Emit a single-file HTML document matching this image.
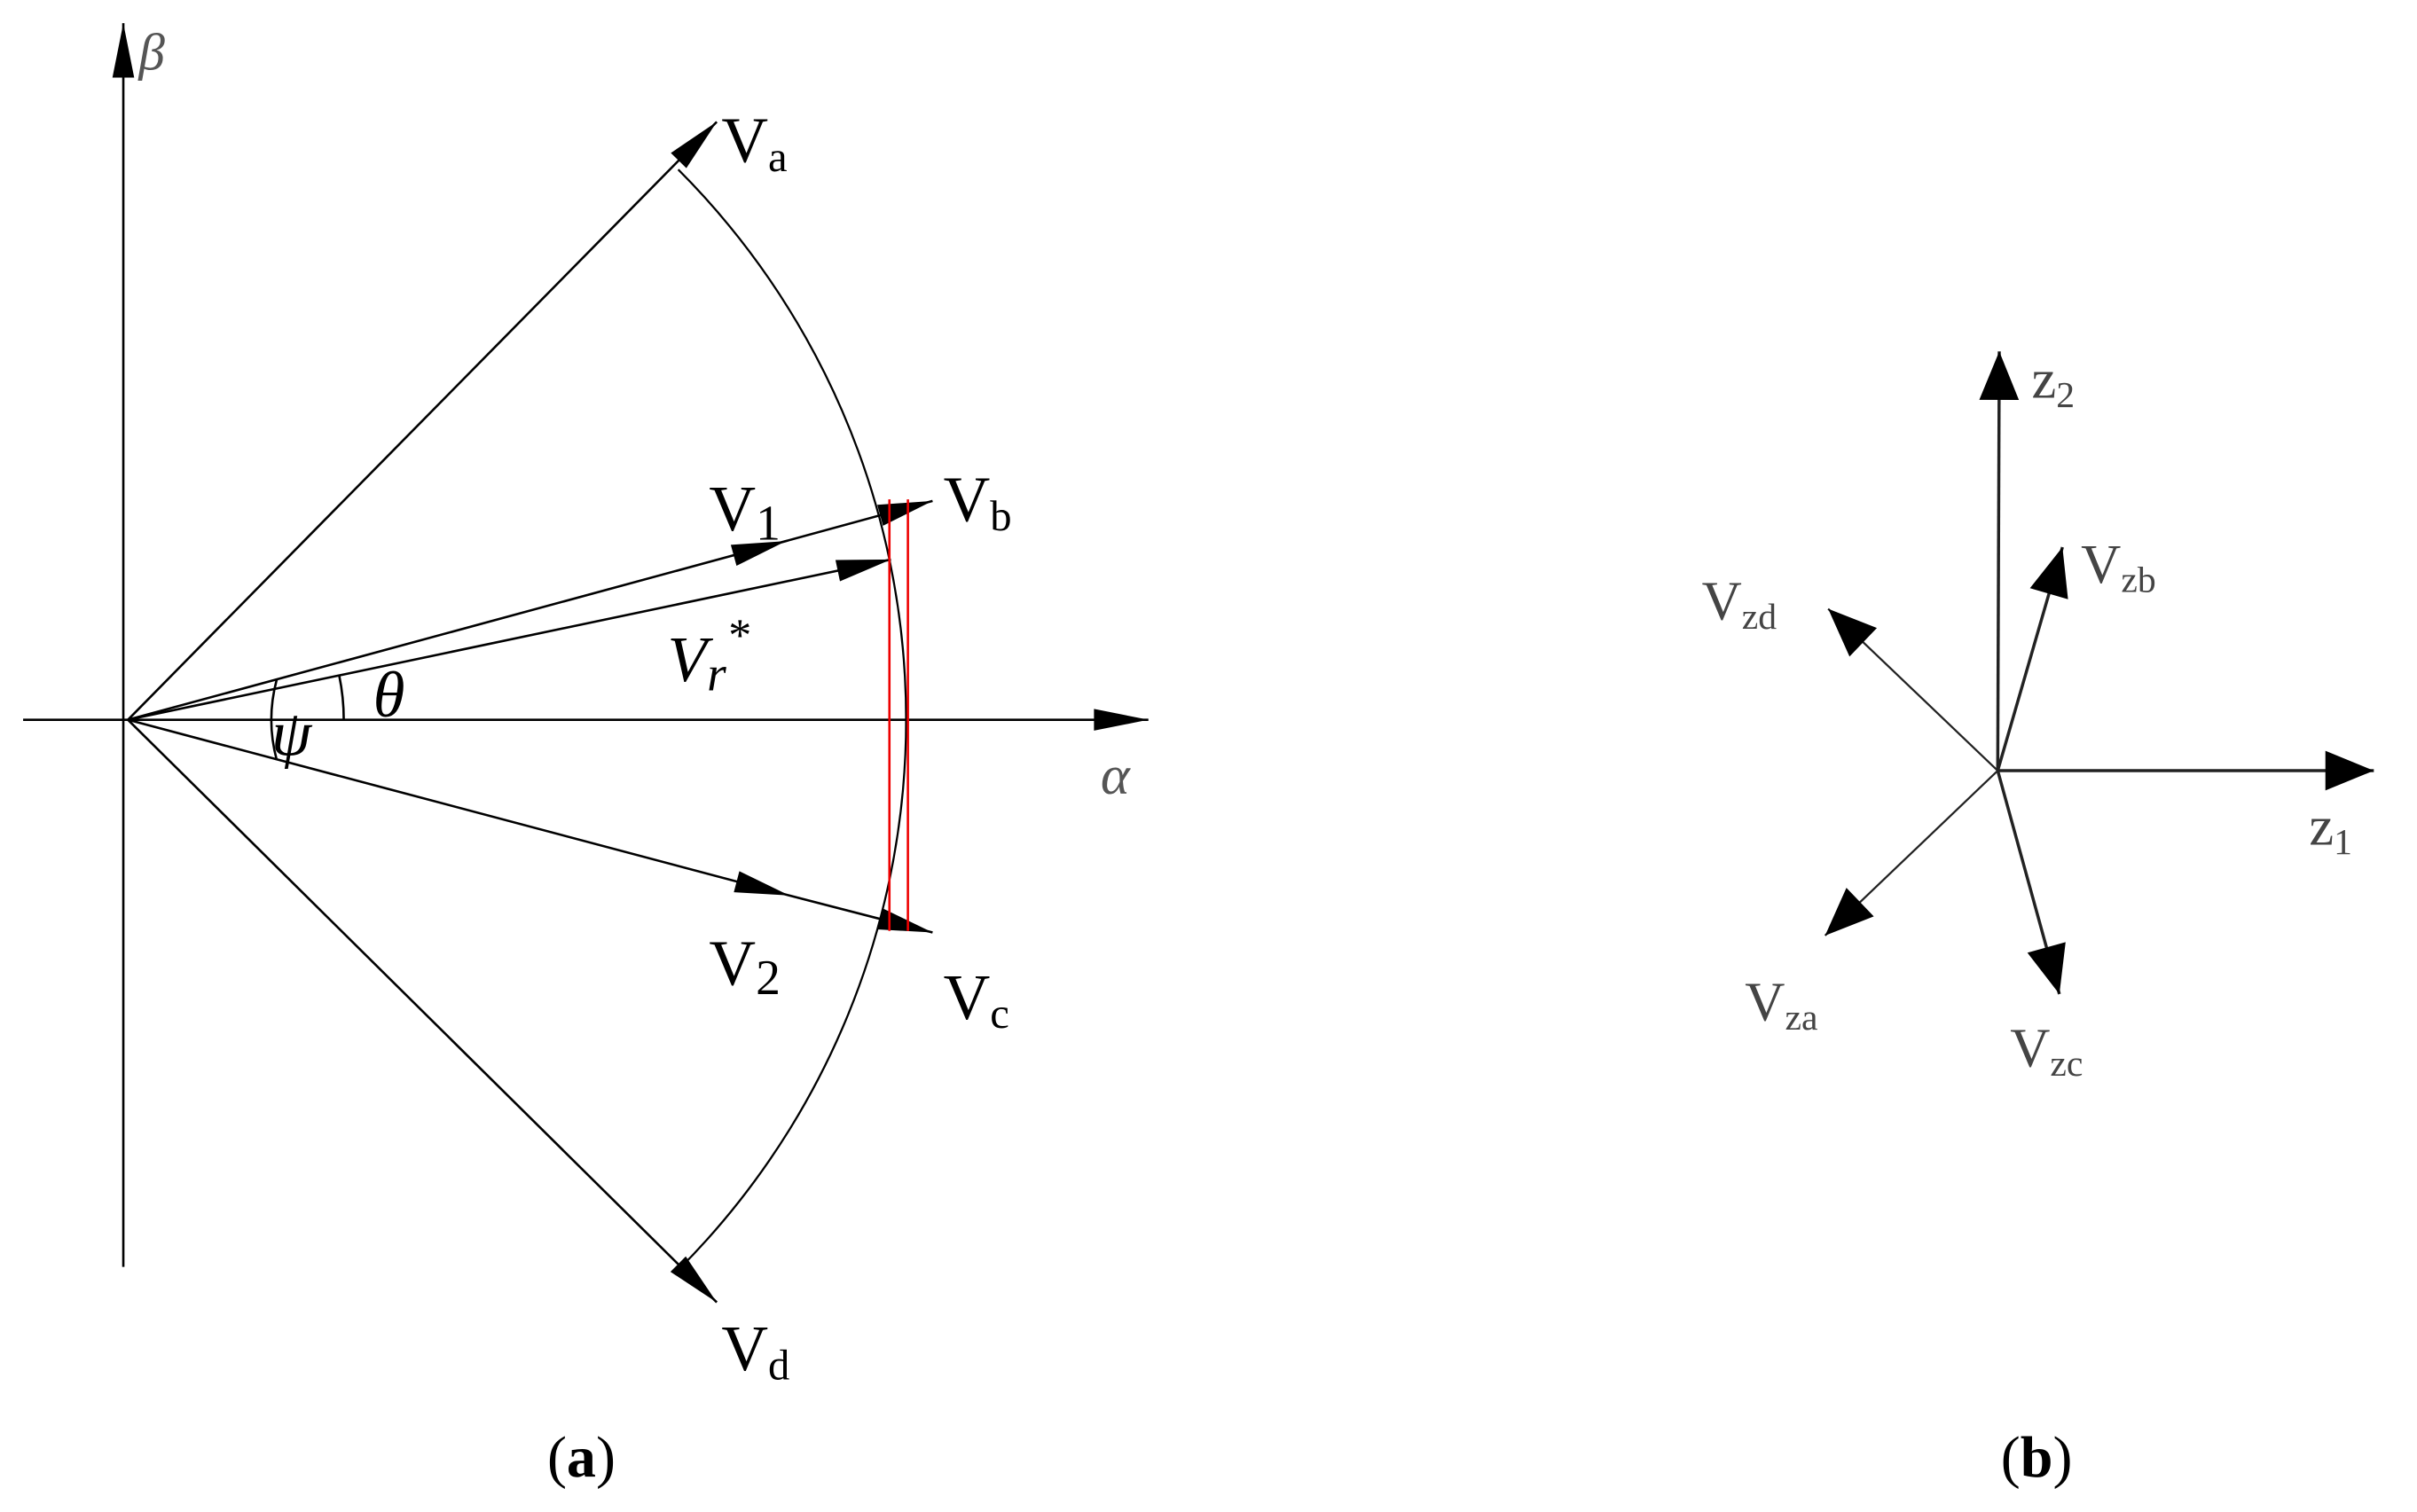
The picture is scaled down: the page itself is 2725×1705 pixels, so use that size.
<!DOCTYPE html>
<html><head><meta charset="utf-8"><style>html,body{margin:0;padding:0;background:#fff;}svg{display:block}text{font-family:"Liberation Serif",serif}</style></head>
<body>
<svg width="2725" height="1705" viewBox="0 0 1568 981" xmlns="http://www.w3.org/2000/svg">
<defs>
<marker id="a" markerUnits="userSpaceOnUse" markerWidth="40" markerHeight="20" refX="0" refY="0" viewBox="-32 -8 34 16" orient="auto" overflow="visible"><path d="M0,0 L-30,-6 L-30,6 z" fill="#000"/></marker>
<marker id="b" markerUnits="userSpaceOnUse" markerWidth="40" markerHeight="30" refX="0" refY="0" viewBox="-26 -10 28 20" orient="auto" overflow="visible"><path d="M0,0 L-22,-9 L-22,9 z" fill="#000"/></marker>
</defs>
<g stroke="#000" stroke-width="1.5" fill="none">
<line x1="80" y1="822" x2="80" y2="15" marker-end="url(#a)"/>
<line x1="15" y1="467" x2="745" y2="467" marker-end="url(#a)"/>
<line x1="83" y1="467" x2="465" y2="79" marker-end="url(#a)"/>
<line x1="83" y1="467" x2="465" y2="845" marker-end="url(#a)"/>
<path d="M440,110 A505,505 0 0 1 440,824" stroke-width="1.3"/>
<polyline points="83,467 510,351 605,325" marker-mid="url(#a)" marker-end="url(#a)"/>
<polyline points="83,467 578,363" marker-end="url(#a)"/>
<polyline points="83,467 512,581 605,605" marker-mid="url(#a)" marker-end="url(#a)"/>
<path d="M223,467 A140,140 0 0 0 220,438"/>
<path d="M179.5,441 A100,100 0 0 0 179.5,493"/>
</g>
<g stroke="#e00" stroke-width="1.5"><line x1="577" y1="324" x2="577" y2="604"/><line x1="589" y1="324" x2="589" y2="604"/></g>
<g font-size="42" fill="#000">
<text x="90" y="45" font-style="italic" font-size="34" fill="#555">β</text>
<text x="714" y="515" font-style="italic" font-size="36" fill="#555">α</text>
<text x="468" y="105">V<tspan font-size="28" dy="6">a</tspan></text>
<text x="612" y="338">V<tspan font-size="28" dy="6">b</tspan></text>
<text x="612" y="661">V<tspan font-size="28" dy="6">c</tspan></text>
<text x="468" y="889">V<tspan font-size="28" dy="6">d</tspan></text>
<text x="460" y="344">V<tspan font-size="32" dy="6">1</tspan></text>
<text x="460" y="639">V<tspan font-size="32" dy="6">2</tspan></text>
<text x="433" y="442" font-style="italic">V<tspan font-size="32" dy="6">r</tspan><tspan font-size="30" dy="-26">*</tspan></text>
<text x="242" y="465" font-style="italic">θ</text>
<text x="176" y="490" font-style="italic">ψ</text>
<text x="355" y="958" font-size="38">(<tspan font-weight="bold">a</tspan>)</text>
<text x="1298" y="958" font-size="38">(<tspan font-weight="bold">b</tspan>)</text>
</g>
<g stroke="#222" stroke-width="2" fill="none">
<line x1="1296" y1="500" x2="1297" y2="228" marker-end="url(#b)"/>
<line x1="1296" y1="500" x2="1540" y2="500" marker-end="url(#b)"/>
<line x1="1296" y1="500" x2="1338" y2="355" marker-end="url(#b)"/>
<line x1="1296" y1="500" x2="1336" y2="645" marker-end="url(#b)"/>
<line x1="1296" y1="500" x2="1186" y2="395" stroke-width="1.3" marker-end="url(#b)"/>
<line x1="1296" y1="500" x2="1184" y2="607" stroke-width="1.3" marker-end="url(#b)"/>
</g>
<g font-size="36" fill="#444">
<text x="1318" y="258">z<tspan font-size="24" dy="6">2</tspan></text>
<text x="1498" y="548">z<tspan font-size="24" dy="6">1</tspan></text>
<text x="1350" y="378">V<tspan font-size="24" dy="6">zb</tspan></text>
<text x="1104" y="402">V<tspan font-size="24" dy="6">zd</tspan></text>
<text x="1132" y="662">V<tspan font-size="24" dy="6">za</tspan></text>
<text x="1304" y="692">V<tspan font-size="24" dy="6">zc</tspan></text>
</g>
</svg>
</body></html>
